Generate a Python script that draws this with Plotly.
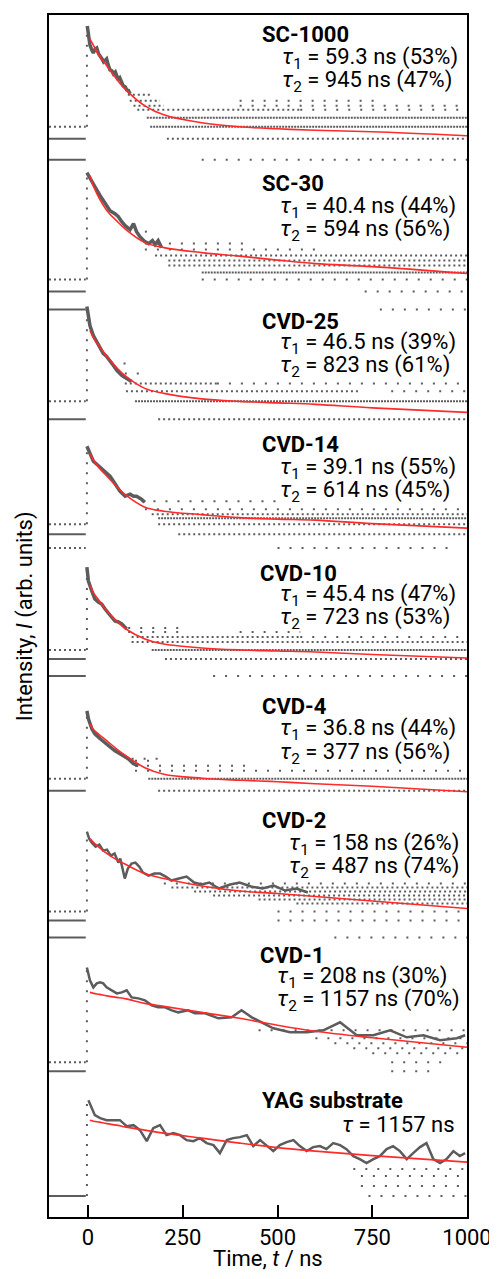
import plotly.graph_objects as go

# ---------------- data ----------------
samples = ["SC-1000", "SC-30", "CVD-25", "CVD-14", "CVD-10", "CVD-4", "CVD-2", "CVD-1", "YAG substrate"]
tau1 = ["59.3", "40.4", "46.5", "39.1", "45.4", "36.8", "158", "208", "1157"]
pct1 = [53, 44, 39, 55, 47, 44, 26, 30, None]
tau2 = ["945", "594", "823", "614", "723", "377", "487", "1157", None]
pct2 = [47, 56, 61, 45, 53, 56, 74, 70, None]

# vertical offset of each stacked decay (log-intensity, arb. units)
offsets = [108.3, 94.5, 80.6, 69.0, 56.0, 42.6, 30.9, 17.0, 5.5]

# bi-exponential fit curves (log-intensity relative to panel offset)
fit_t = [5, 15, 30, 50, 75, 100, 150, 200, 300, 400, 500, 600, 750, 1000]
fit_SC1000 = [9.7, 9.0, 8.0, 7.0, 5.7, 4.6, 3.0, 2.1, 1.3, 0.9, 0.7, 0.55, 0.4, 0]
fit_SC30 = [9.8, 8.7, 7.5, 6.3, 5.3, 4.4, 3.1, 2.6, 2.1, 1.75, 1.35, 1.0, 0.7, 0]
fit_CVD25 = [8.2, 7.4, 6.6, 5.6, 4.5, 3.6, 2.4, 1.9, 1.35, 1.1, 0.95, 0.8, 0.45, 0]
fit_CVD14 = [7.5, 6.8, 6.0, 5.2, 4.2, 3.3, 2.1, 1.7, 1.35, 1.05, 0.9, 0.8, 0.45, 0]
fit_CVD10 = [7.3, 6.5, 5.7, 4.7, 3.7, 2.9, 1.9, 1.4, 1.0, 0.8, 0.7, 0.6, 0.35, 0]
fit_CVD4 = [6.8, 6.2, 5.7, 5.1, 4.3, 3.6, 2.4, 1.75, 1.35, 1.15, 1.0, 0.8, 0.55, 0]
fit_CVD2 = [7.0, 6.6, 6.1, 5.5, 4.9, 4.4, 3.5, 3.0, 2.25, 1.75, 1.5, 1.2, 0.75, 0]
fit_CVD1 = [5.5, 5.4, 5.3, 5.15, 5.0, 4.85, 4.4, 4.1, 3.5, 2.9, 2.2, 1.6, 0.95, 0]
fit_YAG = [4.2, 4.1, 4.0, 3.85, 3.7, 3.5, 3.2, 2.9, 2.4, 1.9, 1.45, 1.1, 0.65, 0]
fits = [fit_SC1000, fit_SC30, fit_CVD25, fit_CVD14, fit_CVD10, fit_CVD4, fit_CVD2, fit_CVD1, fit_YAG]

# measured decay (dense part of the photon-counting histogram)
band_t_SC1000 = [-2, 1, 5, 10, 14, 19, 23, 28, 32, 37, 41, 46, 49, 54, 58, 63, 67, 72, 76, 80, 84, 89, 93, 98, 102, 107, 111]
band_v_SC1000 = [11.0, 10.2, 9.1, 8.6, 8.3, 8.7, 8.8, 8.2, 8.0, 7.7, 7.4, 7.6, 7.7, 7.0, 6.6, 6.5, 6.2, 6.4, 6.0, 5.6, 5.8, 5.3, 5.0, 4.9, 4.6, 4.5, 4.2]
band_t_SC30 = [-3, 5, 18, 32, 45, 58, 71, 80, 89, 98, 111, 120, 128, 137, 150, 160, 170, 177, 185, 194]
band_v_SC30 = [10.1, 9.5, 8.7, 7.8, 7.0, 6.3, 6.0, 5.7, 5.2, 4.8, 4.4, 5.0, 4.2, 3.7, 3.2, 3.0, 3.3, 2.9, 3.3, 2.6]
band_t_CVD25 = [-3, 1, 5, 14, 23, 32, 40, 49, 58, 67, 76, 89, 102, 115]
band_v_CVD25 = [10.6, 9.6, 8.7, 7.7, 7.1, 6.4, 5.9, 5.6, 5.2, 4.7, 4.2, 3.7, 3.4, 3.1]
band_t_CVD14 = [-3, 5, 14, 23, 32, 40, 49, 58, 67, 76, 84, 98, 111, 120, 128, 141, 150]
band_v_CVD14 = [8.2, 7.4, 6.7, 6.4, 6.1, 5.8, 5.6, 5.2, 4.7, 4.2, 3.7, 3.2, 3.4, 3.2, 3.2, 2.9, 2.6]
band_t_CVD10 = [-3, 1, 10, 18, 27, 36, 45, 54, 62, 71, 80, 89, 102]
band_v_CVD10 = [9.1, 7.7, 6.7, 5.9, 5.6, 5.4, 4.9, 4.4, 4.1, 3.7, 3.6, 3.4, 2.9]
band_t_CVD4 = [-3, 1, 10, 18, 32, 45, 58, 71, 80, 93, 106, 120, 133]
band_v_CVD4 = [8.1, 7.3, 6.3, 5.8, 5.3, 4.9, 4.4, 4.1, 3.9, 3.6, 3.3, 2.8, 2.6]
band_t_CVD2 = [-3, 3, 10, 20, 30, 40, 50, 60, 70, 80, 85, 97, 105, 115, 125, 135, 145, 160, 175, 190, 205, 220,
               240, 260, 280, 300, 320, 345, 375, 400, 430, 460, 490, 520, 550, 580]
band_v_CVD2 = [7.7, 7.0, 6.6, 6.2, 6.4, 5.8, 5.9, 5.3, 5.5, 4.6, 5.0, 3.0, 4.0, 4.5, 4.6, 4.2, 3.6, 3.3, 3.5, 3.5, 3.2, 2.8,
               3.0, 3.2, 2.6, 2.4, 2.6, 2.0, 2.4, 2.6, 2.2, 2.0, 2.3, 1.8, 2.0, 1.6]
band_t_CVD1 = [-3, 5, 14, 23, 32, 40, 49, 62, 76, 89, 102, 115, 133, 150, 168, 185, 203, 221, 238, 264, 282, 309,
               344, 379, 405, 432, 460, 489, 533, 577, 621, 665, 709, 753, 797, 841, 885, 929, 973, 995]
band_v_CVD1 = [8.0, 6.7, 6.0, 6.4, 6.5, 6.4, 6.0, 5.7, 5.4, 5.5, 5.7, 5.0, 4.9, 4.7, 4.2, 4.0, 4.0, 3.7, 3.5, 3.7, 3.4, 3.4,
               2.9, 3.0, 3.7, 3.0, 2.5, 1.9, 1.5, 1.5, 1.7, 2.5, 1.2, 1.2, 1.7, 1.0, 1.2, 0.7, 0.9, 1.2]
band_t_YAG = [1, 10, 18, 32, 49, 67, 84, 102, 120, 137, 155, 172, 190, 207, 225, 243, 260, 278, 295, 313, 331, 348,
              366, 383, 401, 419, 436, 454, 471, 489, 506, 524, 542, 559, 577, 594, 612, 629, 647, 665, 682, 700,
              717, 735, 753, 770, 788, 805, 823, 841, 858, 876, 893, 911, 929, 946, 964, 981, 995]
band_v_YAG = [6.2, 5.3, 4.7, 4.4, 4.2, 4.2, 4.2, 3.6, 3.7, 3.2, 2.1, 3.4, 3.7, 2.7, 2.9, 2.7, 2.2, 2.1, 2.4, 1.9, 1.7, 0.9,
              2.2, 2.4, 2.5, 2.7, 1.6, 2.2, 1.7, 1.1, 1.7, 2.0, 2.2, 1.6, 1.1, 1.5, 1.6, 1.3, 1.9, 1.7, 1.3, 0.6,
              0.3, -0.1, 0.3, 0.6, 1.3, 1.6, 1.1, 0.3, 0.9, 1.5, 1.9, 0.3, -0.1, 0.3, 1.1, 0.6, 0.9]
band_t = [band_t_SC1000, band_t_SC30, band_t_CVD25, band_t_CVD14, band_t_CVD10, band_t_CVD4, band_t_CVD2, band_t_CVD1, band_t_YAG]
band_v = [band_v_SC1000, band_v_SC30, band_v_CVD25, band_v_CVD14, band_v_CVD10, band_v_CVD4, band_v_CVD2, band_v_CVD1, band_v_YAG]

# quantised count levels in the tails: (level, t_start, t_end, density d/m/s)
rows_SC1000 = [(4.6, 105, 130, 's'), (4.1, 105, 165, 'm'), (3.5, 110, 190, 'm'), (3.5, 400, 770, 's'),
               (3.0, 120, 200, 'm'), (3.0, 400, 1000, 's'), (2.6, 130, 560, 'm'), (2.6, 560, 1000, 's'),
               (1.8, 155, 1000, 'd'), (0.9, 164, 1000, 'd'), (-0.3, 208, 1000, 'm'), (-2.4, 300, 1000, 's')]
rows_SC30 = [(4.2, 150, 175, 's'), (3.0, 150, 420, 's'), (2.4, 150, 600, 's'), (1.8, 177, 1000, 'm'),
             (1.3, 212, 1000, 'm'), (0.8, 212, 1000, 'm'), (0.1, 300, 1000, 'd'), (-0.6, 300, 1000, 's'),
             (-1.8, 730, 1000, 's'), (-3.6, 770, 1000, 's')]
rows_CVD25 = [(4.9, 62, 100, 's'), (3.9, 97, 150, 's'), (2.9, 97, 340, 'm'), (2.9, 340, 1000, 's'),
              (2.1, 100, 720, 'm'), (2.1, 800, 1000, 's'), (1.1, 124, 1000, 'd'), (-0.7, 185, 1000, 'm')]
rows_CVD14 = [(2.7, 141, 500, 's'), (1.9, 150, 1000, 's'), (1.4, 168, 1000, 'm'), (1.0, 185, 1000, 'd'),
              (0.4, 185, 1000, 'm'), (-0.6, 238, 1000, 'm'), (-2.0, 500, 950, 's')]
rows_CVD10 = [(3.0, 106, 240, 's'), (2.6, 106, 240, 's'), (2.6, 400, 560, 's'), (2.1, 115, 560, 'm'),
              (2.1, 560, 1000, 's'), (1.6, 115, 1000, 'm'), (0.8, 168, 1000, 'd'), (-0.1, 203, 1000, 'm'),
              (-1.8, 330, 1000, 's')]
rows_CVD4 = [(3.3, 115, 185, 's'), (3.1, 124, 185, 's'), (2.6, 124, 440, 's'), (2.1, 124, 1000, 's'),
             (1.3, 159, 1000, 'd'), (0.1, 185, 1000, 'm')]
rows_CVD2 = [(2.5, 200, 1000, 's'), (2.1, 220, 1000, 'm'), (1.7, 280, 1000, 'm'), (1.3, 330, 1000, 'm'),
             (0.9, 450, 1000, 'm'), (0.5, 550, 1000, 'm'), (-0.3, 500, 1000, 's'), (-1.2, 500, 1000, 's'),
             (-2.9, 650, 1000, 's')]
rows_CVD1 = [(1.7, 450, 1000, 's'), (0.9, 600, 1000, 's'), (0.4, 650, 1000, 's'), (-0.1, 700, 1000, 's'),
             (-0.6, 750, 1000, 's'), (-1.5, 800, 950, 's'), (-2.4, 800, 920, 's')]
rows_YAG = [(-0.7, 700, 1000, 's'), (-1.4, 720, 1000, 's'), (-2.4, 720, 1000, 's'), (-3.4, 740, 1000, 's')]
rows = [rows_SC1000, rows_SC30, rows_CVD25, rows_CVD14, rows_CVD10, rows_CVD4, rows_CVD2, rows_CVD1, rows_YAG]

# background levels before excitation (t < 0): (level, style)
pre_levels = [
    [(0.9, 'm'), (-0.3, 'solid'), (-2.4, 'solid')],
    [(-0.6, 'm'), (-1.8, 'solid'), (-3.6, 'solid')],
    [(1.1, 'm'), (-0.7, 'solid')],
    [(0.4, 'm'), (-0.6, 'solid'), (-2.0, 'm')],
    [(0.8, 'm'), (-0.1, 'solid'), (-1.8, 'solid')],
    [(1.3, 'm'), (0.1, 'solid')],
    [(-0.3, 'm'), (-1.2, 'solid'), (-2.9, 'solid')],
    [(-1.5, 'm'), (-2.4, 'solid')],
    [(-3.4, 'solid')],
]
pre_t = [-103, -6]
edge_t = -3

# label placement (relative to each panel)
name_rel = [10.1, 9.0, 9.1, 8.4, 8.5, 8.5, 8.8, 9.2, 6.2]
tau1_rel = [7.7, 6.6, 6.9, 6.0, 6.3, 6.2, 6.4, 7.0, 3.8]
tau2_rel = [5.4, 4.3, 4.6, 3.7, 4.0, 3.8, 4.1, 4.7, None]
name_x = [454, 454, 454, 454, 449, 454, 454, 449, 454]
tau_x = [507, 501, 501, 501, 501, 501, 525, 494, 665]

x_ticks = [0, 250, 500, 750, 1000]

# ---------------- figure ----------------
GRAY = "#5c5c5c"
RED = "#ff2a2a"
FONT = "Roboto"
dash_styles = {'d': "2px,1px", 'm': "2px,3px", 's': "2px,10px", 'solid': "solid"}

fig = go.Figure()

# group the quantised rows by dash style
groups = {k: ([], []) for k in dash_styles}
for k in range(len(samples)):
    off = offsets[k]
    for lev, t0, t1, st in rows[k]:
        groups[st][0].extend([t0, t1, None])
        groups[st][1].extend([off + lev, off + lev, None])
    for lev, st in pre_levels[k]:
        groups[st][0].extend([pre_t[0], pre_t[1], None])
        groups[st][1].extend([off + lev, off + lev, None])

for st, (xs, ys) in groups.items():
    if xs:
        fig.add_trace(go.Scatter(x=xs, y=ys, mode="lines", hoverinfo="skip",
                                 line=dict(color=GRAY, width=2, dash=dash_styles[st])))

# rising edges (sparse dots from background up to the peak)
ex, ey = [], []
for k in range(len(samples)):
    off = offsets[k]
    top_pre = max(l for l, _ in pre_levels[k])
    ex.extend([edge_t, edge_t, None])
    ey.extend([off + top_pre, off + max(band_v[k]), None])
fig.add_trace(go.Scatter(x=ex, y=ey, mode="lines", hoverinfo="skip",
                         line=dict(color=GRAY, width=2, dash="2px,8px")))

# measured decays
for k in range(len(samples)):
    off = offsets[k]
    w = 3.5 if k < 6 else 2.5
    fig.add_trace(go.Scatter(x=band_t[k], y=[off + v for v in band_v[k]], mode="lines",
                             line=dict(color=GRAY, width=w), hoverinfo="skip"))

# fits
for k in range(len(samples)):
    off = offsets[k]
    fig.add_trace(go.Scatter(x=fit_t, y=[off + v for v in fits[k]], mode="lines",
                             line=dict(color=RED, width=1.6, shape="spline"), hoverinfo="skip"))

annotations = []
for k in range(len(samples)):
    off = offsets[k]
    annotations.append(dict(x=name_x[k], y=off + name_rel[k], xref="x", yref="y",
                            text="<b>%s</b>" % samples[k], showarrow=False,
                            xanchor="left", yanchor="middle",
                            font=dict(family=FONT, size=22, color="black")))
    if tau2[k] is None:
        t1 = "<i>τ</i> = %s ns" % tau1[k]
    else:
        t1 = "<i>τ</i><sub>1</sub> = %s ns (%d%%)" % (tau1[k], pct1[k])
    annotations.append(dict(x=tau_x[k], y=off + tau1_rel[k], xref="x", yref="y",
                            text=t1, showarrow=False, xanchor="left", yanchor="middle",
                            font=dict(family=FONT, size=22, color="black")))
    if tau2[k] is not None:
        t2 = "<i>τ</i><sub>2</sub> = %s ns (%d%%)" % (tau2[k], pct2[k])
        annotations.append(dict(x=tau_x[k], y=off + tau2_rel[k], xref="x", yref="y",
                                text=t2, showarrow=False, xanchor="left", yanchor="middle",
                                font=dict(family=FONT, size=22, color="black")))

annotations.append(dict(x=-0.057, y=0.5, xref="paper", yref="paper", textangle=-90,
                        text="Intensity, <i>I</i> (arb. units)", showarrow=False,
                        xanchor="center", yanchor="middle",
                        font=dict(family=FONT, size=22, color="black")))
annotations.append(dict(x=0.523, y=-0.0345, xref="paper", yref="paper",
                        text="Time, <i>t</i> / ns", showarrow=False,
                        xanchor="center", yanchor="middle",
                        font=dict(family=FONT, size=22, color="black")))

# the page adds an 8 px body margin, so the figure is placed 8 px in from the corner
fig.update_layout(
    width=489, height=1263,
    margin=dict(l=41, r=29, t=5, b=54),
    paper_bgcolor="white", plot_bgcolor="white",
    showlegend=False,
    annotations=annotations,
    xaxis=dict(range=[-103, 1000], tickvals=x_ticks, ticks="inside", ticklen=12, tickwidth=2,
               tickcolor="black", showline=True, linewidth=2, linecolor="black", mirror=True,
               showgrid=False, zeroline=False, ticklabeloverflow="allow",
               tickfont=dict(family=FONT, size=22, color="black")),
    yaxis=dict(range=[0, 120.4], showticklabels=False, ticks="", showline=True, linewidth=2,
               linecolor="black", mirror=True, showgrid=False, zeroline=False),
)

fig.write_html("out.html")
